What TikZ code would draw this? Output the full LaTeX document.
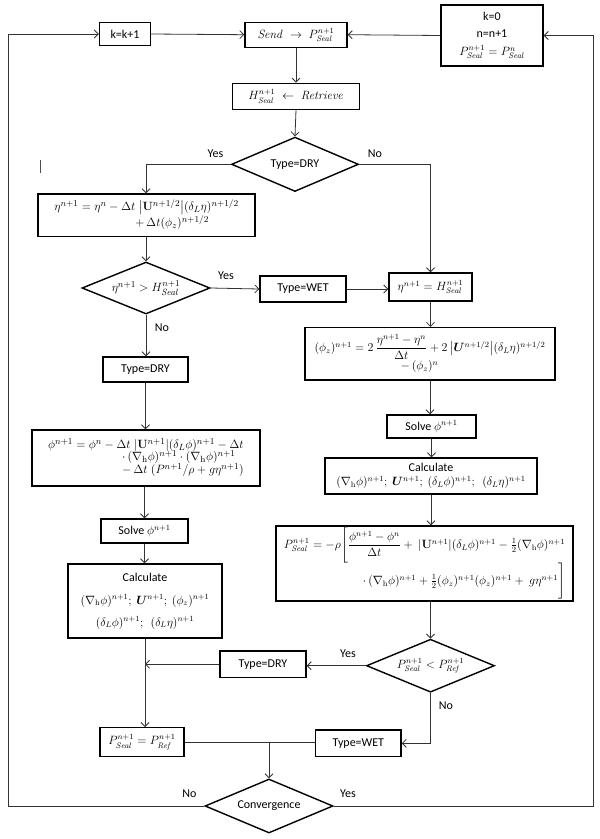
\documentclass[tikz,border=0pt]{standalone}
\usepackage{amsmath}
\usepackage{bm}
\usepackage[no-math]{fontspec}
\setmainfont{Carlito}
\usetikzlibrary{shapes.geometric,arrows.meta}
\newcommand{\mySeal}{\mathit{Seal}}
\newcommand{\myRef}{\mathit{Ref}}
\newcommand{\nabh}{\nabla_{\mathrm{h}}}
\tikzset{
  box/.style={draw, line width=1.4pt, rectangle, inner sep=0pt, align=center, font=\fontsize{12}{14}\selectfont},
  dia/.style={draw, line width=1.4pt, diamond, aspect=2.4, inner sep=0pt, font=\fontsize{12}{14}\selectfont},
  conn/.style={line width=0.8pt, draw=black!80},
  arr/.style={conn, -{Straight Barb[length=4pt,width=8pt]}},
  lbl/.style={font=\fontsize{12}{14}\selectfont, inner sep=0pt},
  bigmath/.style={font=\fontsize{13}{15}\selectfont},
}
\begin{document}
\begin{tikzpicture}[x=1pt,y=-1pt]
\useasboundingbox (0,0) rectangle (600,839);
\fill[white] (0,0) rectangle (600,839);
% top row
\node[box, minimum width=51pt, minimum height=23.5pt] (kk) at (125,34) {k=k+1};
\node[box, minimum width=102pt, minimum height=25pt] (send) at (296,34.7) {$\mathit{Send}\;\rightarrow\;P^{n+1}_{\mySeal}$};
\node[box, minimum width=102pt, minimum height=61pt] (k0) at (492,35.5) {k=0\\[3pt] n=n+1\\[4pt] $P^{n+1}_{\mySeal}=P^{n}_{\mySeal}$};
\node[box, minimum width=127pt, minimum height=26pt] (retr) at (296,96.3) {$H^{n+1}_{\mySeal}\;\leftarrow\;\mathit{Retrieve}$};
\node[dia, minimum width=127pt, minimum height=54.4pt] (d1) at (295,164.3) {Type=DRY};
% left column
\node[box, bigmath, minimum width=217pt, minimum height=42.7pt] (eta1) at (146.5,215.3)
  {\begin{tabular}{@{}l@{}}
   $\eta^{n+1}=\eta^{n}-\Delta t\;\bigl|\mathbf{U}^{n+1/2}\bigr|(\delta_L\eta)^{n+1/2}$\\[0pt]
   \hspace*{81pt}$+\,\Delta t(\phi_z)^{n+1/2}$
   \end{tabular}};
\node[dia, bigmath, minimum width=128pt, minimum height=52pt] (d2) at (146,288) {$\eta^{n+1}>H^{n+1}_{\mySeal}$};
\node[box, minimum width=85pt, minimum height=25pt] (dry1) at (145.5,369.5) {Type=DRY};
\node[box, bigmath, minimum height=56pt, minimum width=228pt] (phi) at (146,458)
  {\begin{tabular}{@{}l@{}}
   $\phi^{n+1}=\phi^{n}-\Delta t\;|\mathbf{U}^{n+1}|(\delta_L\phi)^{n+1}-\Delta t$\\[-3pt]
   \hspace*{74pt}$\cdot\,(\nabh\phi)^{n+1}\cdot(\nabh\phi)^{n+1}$\\[-2pt]
   \hspace*{74pt}$-\,\Delta t\;(P^{n+1}/\rho+g\eta^{n+1})$
   \end{tabular}};
\node[box, minimum width=87pt, minimum height=24pt] (solveL) at (144.5,531) {Solve $\phi^{n+1}$};
\node[box, minimum width=154pt, minimum height=74pt] (calcL) at (145,601)
  {Calculate\\[9pt]
   $(\nabh\phi)^{n+1};\ \bm{U}^{n+1};\ (\phi_z)^{n+1}$\\[8pt]
   $(\delta_L\phi)^{n+1};\ \ (\delta_L\eta)^{n+1}$};
\node[box, minimum width=83.7pt, minimum height=29pt] (pp) at (142,742.2) {$P^{n+1}_{\mySeal}=P^{n+1}_{\myRef}$};
% right column
\node[box, minimum width=86pt, minimum height=26pt] (wet1) at (303,289) {Type=WET};
\node[box, minimum width=83pt, minimum height=28pt] (etaH) at (430.5,287) {$\eta^{n+1}=H^{n+1}_{\mySeal}$};
\node[box, minimum width=250pt, minimum height=52.3pt] (phiz) at (430,353.8)
  {\begin{tabular}{@{}l@{}}
   $(\phi_z)^{n+1}=2\,\dfrac{\eta^{n+1}-\eta^{n}}{\Delta t}+2\,\bigl|\bm{U}^{n+1/2}\bigr|(\delta_L\eta)^{n+1/2}$\\[0pt]
   \hspace*{86pt}$-\,(\phi_z)^{n}$
   \end{tabular}};
\node[box, minimum width=89pt, minimum height=23pt] (solveR) at (431.5,426.5) {Solve $\phi^{n+1}$};
\node[box, minimum width=212pt, minimum height=36pt] (calcR) at (431,476)
  {Calculate\\[0pt]
   $(\nabh\phi)^{n+1};\ \bm{U}^{n+1};\ (\delta_L\phi)^{n+1};\ \ (\delta_L\eta)^{n+1}$};
\node[box, minimum height=75pt, minimum width=297pt] (pbox) at (424.5,563.5)
  {\begin{tabular}{@{}r@{}}
   $P^{n+1}_{\mySeal}=-\rho\Biggl[\dfrac{\phi^{n+1}-\phi^{n}}{\Delta t}+\ |\mathbf{U}^{n+1}|(\delta_L\phi)^{n+1}-\tfrac{1}{2}(\nabh\phi)^{n+1}$\\[2pt]
   $\cdot\,(\nabh\phi)^{n+1}+\tfrac{1}{2}(\phi_z)^{n+1}(\phi_z)^{n+1}+\ g\eta^{n+1}\Biggr]$
   \end{tabular}};
\node[dia, minimum width=128pt, minimum height=53pt] (d3) at (430.5,665.7) {$P^{n+1}_{\mySeal}<P^{n+1}_{\myRef}$};
\node[box, minimum width=86pt, minimum height=26.3pt] (dry2) at (263,664.2) {Type=DRY};
\node[box, minimum width=85.3pt, minimum height=26.7pt] (wet2) at (358.4,743.3) {Type=WET};
\node[dia, minimum width=128pt, minimum height=54pt] (conv) at (269,806) {Convergence};
% labels
\node[lbl] (y1) at (215.5,154) {Yes};
\node[lbl] (n1) at (375,154) {No};
\node[lbl] (y2) at (226,276) {Yes};
\node[lbl] (n2) at (162,328) {No};
\node[lbl] (y3) at (348,654) {Yes};
\node[lbl] (n3) at (446,706) {No};
\node[lbl] (n4) at (189.4,794) {No};
\node[lbl] (y4) at (348,794) {Yes};
% coordinates
\coordinate (lx) at (8,806);
\coordinate (rx) at (593,806);
\coordinate (mark1) at (40,160);
\coordinate (mark2) at (40,173);
% connectors
\draw[arr] (conv.west) -- (lx) |- (kk.west);
\draw[arr] (conv.east) -- (rx) |- (k0.east);
\draw[arr] (kk.east) -- (send.west);
\draw[arr] (k0.west) -- (send.east);
\draw[arr] (send.south) -- (retr.north);
\draw[arr] (retr.south) -- (d1.north);
\draw[arr] (d1.west) -| (eta1.north -| d2.north);
\draw[arr] (d1.east) -| (etaH.north);
\draw[arr] (d2.north |- eta1.south) -- (d2.north);
\draw[arr] (d2.east) -- (wet1.west);
\draw[arr] (d2.south) -- (dry1.north -| d2.south);
\draw[arr] (wet1.east) -- (etaH.west |- wet1.east);
\draw[arr] (etaH.south) -- (phiz.north -| etaH.south);
\draw[arr] (phiz.south) -- (solveR.north -| phiz.south);
\draw[arr] (solveR.south) -- (calcR.north -| solveR.south);
\draw[arr] (calcR.south) -- (pbox.north -| calcR.south);
\draw[arr] (pbox.south -| d3.north) -- (d3.north);
\draw[arr] (d3.west) -- (dry2.east |- d3.west);
\draw[arr] (dry1.south) -- (phi.north -| dry1.south);
\draw[arr] (phi.south -| solveL.north) -- (solveL.north);
\draw[arr] (solveL.south) -- (calcL.north -| solveL.south);
\draw[arr] (calcL.south) -- (pp.north -| calcL.south);
\draw[arr] (dry2.west) -- (calcL.south |- dry2.west);
\draw[arr] (d3.south) |- (wet2.east);
\draw[conn] (pp.east) -- (wet2.west |- pp.east);
\draw[arr] (conv.north |- pp.east) -- (conv.north);
\draw[line width=0.6pt, black!70] (mark1) -- (mark2);
\end{tikzpicture}
\end{document}
